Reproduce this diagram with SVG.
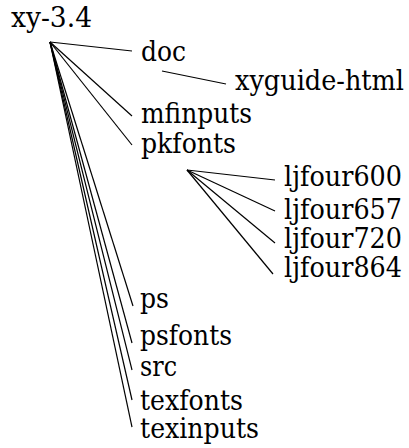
<svg xmlns="http://www.w3.org/2000/svg" width="409" height="448" viewBox="0 0 409 448">
<style>
text{font-family:'DejaVu Serif',serif;font-size:28px;fill:#000}
.e{stroke:#000;stroke-width:1.2;fill:none}
</style>
<rect width="409" height="448" fill="#fff"/>
<g id="connectors">
<line class="e" x1="50" y1="42" x2="132" y2="51"/>
<line class="e" x1="162" y1="71" x2="226" y2="84"/>
<line class="e" x1="50" y1="42" x2="132" y2="116"/>
<line class="e" x1="50" y1="42" x2="132" y2="145"/>
<line class="e" x1="187" y1="170" x2="275" y2="180"/>
<line class="e" x1="187" y1="170" x2="275" y2="211"/>
<line class="e" x1="187" y1="170" x2="275" y2="243"/>
<line class="e" x1="187" y1="170" x2="273" y2="274"/>
<line class="e" x1="50" y1="42" x2="133" y2="306"/>
<line class="e" x1="50" y1="42" x2="132" y2="343"/>
<line class="e" x1="50" y1="42" x2="132" y2="370"/>
<line class="e" x1="50" y1="42" x2="132" y2="400"/>
<line class="e" x1="50" y1="42" x2="132" y2="427"/>
</g>
<g id="n-root"><text x="11" y="27" textLength="81" lengthAdjust="spacingAndGlyphs">xy-3.4</text></g>
<g id="n-doc"><text x="141" y="61" textLength="45" lengthAdjust="spacingAndGlyphs">doc</text></g>
<g id="n-xyguide"><text x="235" y="90" textLength="169" lengthAdjust="spacingAndGlyphs">xyguide-html</text></g>
<g id="n-mfinputs"><text x="141" y="123" textLength="111" lengthAdjust="spacingAndGlyphs">mfinputs</text></g>
<g id="n-pkfonts"><text x="141" y="153" textLength="95" lengthAdjust="spacingAndGlyphs">pkfonts</text></g>
<g id="n-lj600"><text x="284" y="186" textLength="118" lengthAdjust="spacingAndGlyphs">ljfour600</text></g>
<g id="n-lj657"><text x="284" y="219" textLength="118" lengthAdjust="spacingAndGlyphs">ljfour657</text></g>
<g id="n-lj720"><text x="284" y="248" textLength="118" lengthAdjust="spacingAndGlyphs">ljfour720</text></g>
<g id="n-lj864"><text x="284" y="277" textLength="118" lengthAdjust="spacingAndGlyphs">ljfour864</text></g>
<g id="n-ps"><text x="140" y="308" textLength="29" lengthAdjust="spacingAndGlyphs">ps</text></g>
<g id="n-psfonts"><text x="140" y="345" textLength="92" lengthAdjust="spacingAndGlyphs">psfonts</text></g>
<g id="n-src"><text x="140" y="376" textLength="37" lengthAdjust="spacingAndGlyphs">src</text></g>
<g id="n-texfonts"><text x="140" y="410" textLength="103" lengthAdjust="spacingAndGlyphs">texfonts</text></g>
<g id="n-texinputs"><text x="140" y="438" textLength="119" lengthAdjust="spacingAndGlyphs">texinputs</text></g>
</svg>
